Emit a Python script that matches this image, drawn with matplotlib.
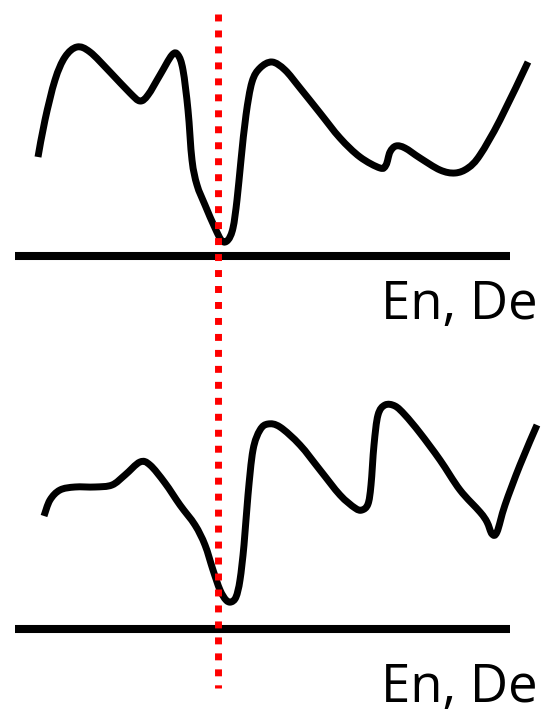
import matplotlib
matplotlib.use("Agg")
import matplotlib.pyplot as plt
from matplotlib.path import Path
from matplotlib.patches import PathPatch

# Schematic curves, read in picture units (x to the right, y downward)
top_x = [38, 45, 55, 65, 77, 90, 110, 130, 140, 148, 160, 172, 178, 183, 188, 192, 197, 205,
         215, 222, 228, 233, 237, 241, 246, 252, 260, 272, 285, 300, 320, 340, 360, 380,
         386, 390, 396, 405, 420, 440, 455, 468, 480, 500, 528]
top_y = [157, 120, 80, 57, 47, 52, 72, 93, 101, 95, 75, 55, 55, 70, 110, 160, 185, 205,
         228, 241, 240, 228, 200, 160, 115, 82, 68, 62, 70, 88, 113, 138, 157, 168,
         165, 152, 146, 148, 158, 170, 173, 168, 155, 120, 62]

bot_x = [44, 50, 60, 75, 95, 112, 125, 140, 150, 165, 180, 195, 205, 213, 220, 226, 231,
         236, 240, 244, 248, 253, 260, 268, 280, 300, 320, 340, 355, 362, 368, 371, 374,
         378, 385, 395, 405, 420, 440, 460, 480, 487, 492, 497, 505, 520, 537]
bot_y = [516, 500, 490, 487, 487, 485, 475, 462, 465, 483, 505, 525, 545, 570, 590, 600, 602,
         597, 580, 545, 495, 450, 430, 424, 427, 445, 470, 495, 508, 510, 504, 485, 445,
         415, 405, 406, 415, 433, 460, 490, 512, 522, 534, 532, 505, 465, 425]

baselines_y = [255.5, 629]
baseline_x = [15, 510]
marker_x = 218
marker_y = [14, 688]
axis_label = "En, De"
label_y = [319, 702]


def smooth_path(xs, ys):
    # Catmull-Rom -> cubic Bezier control points; matplotlib draws the curve
    pts = list(zip(xs, ys))
    verts = [pts[0]]
    codes = [Path.MOVETO]
    n = len(pts)
    for i in range(n - 1):
        p0 = pts[i - 1] if i > 0 else pts[i]
        p1 = pts[i]
        p2 = pts[i + 1]
        p3 = pts[i + 2] if i + 2 < n else pts[i + 1]
        c1 = (p1[0] + (p2[0] - p0[0]) / 6, p1[1] + (p2[1] - p0[1]) / 6)
        c2 = (p2[0] - (p3[0] - p1[0]) / 6, p2[1] - (p3[1] - p1[1]) / 6)
        verts += [c1, c2, p2]
        codes += [Path.CURVE4] * 3
    return Path(verts, codes)


fig = plt.figure(figsize=(5.48, 7.16), dpi=100)
ax = fig.add_axes([0, 0, 1, 1])
ax.set_xlim(0, 548)
ax.set_ylim(716, 0)
ax.axis("off")

for xs, ys in [(top_x, top_y), (bot_x, bot_y)]:
    ax.add_patch(PathPatch(smooth_path(xs, ys), fill=False, edgecolor="black",
                           linewidth=5.0, capstyle="butt", joinstyle="round"))

for y in baselines_y:
    ax.plot(baseline_x, [y, y], color="black", linewidth=5.8, solid_capstyle="butt")

ax.plot([marker_x, marker_x], marker_y, color="#ff0000", linewidth=5.0,
        linestyle=(0, (1.0, 1.3)), dash_capstyle="butt")

for y in label_y:
    ax.text(538, y, axis_label, ha="right", va="baseline", fontsize=38,
            family="Open Sans", color="black")

fig.savefig("out.png", dpi=100)
